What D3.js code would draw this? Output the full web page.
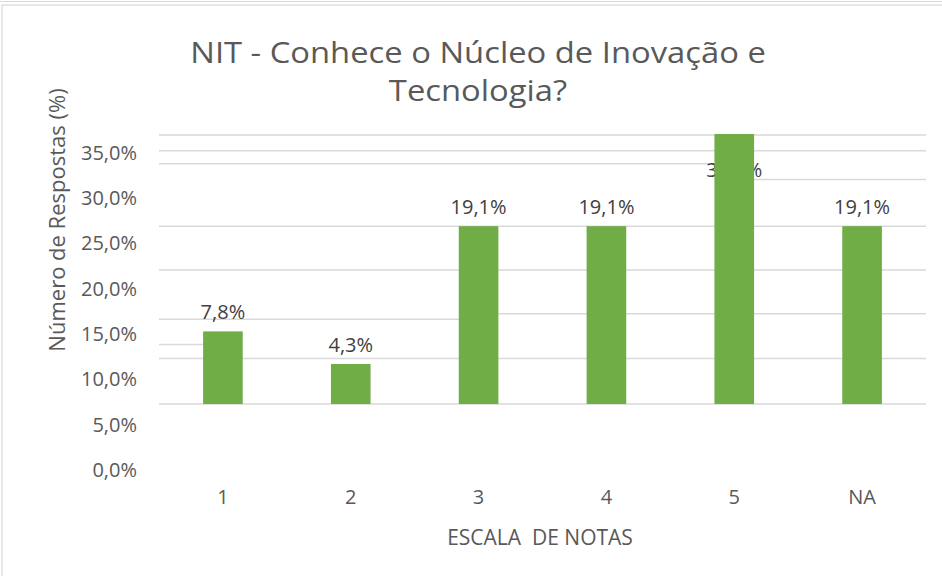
<!DOCTYPE html>
<html>
<head>
<meta charset="utf-8">
<script src="https://cdn.jsdelivr.net/npm/d3@7"></script>
<style>
  body { margin: 0; background: #fff; }
  text { font-family: "Open Sans", sans-serif; }
</style>
</head>
<body>
<div id="chart"></div>
<script>
// categories and values
const categories = ["1", "2", "3", "4", "5", "NA"];
const values = [7.8, 4.3, 19.1, 19.1, 30.6, 19.1];
const yTickValues = [0, 5, 10, 15, 20, 25, 30, 35];

// gridlines as they appear in the picture (value, optional category span)
const gridLines = [
    { v: 0 }, { v: 4.9 }, { v: 6.4, to: "1" },
    { v: 9.1, to: "3" }, { v: 9.7, from: "3" },
    { v: 14.4 }, { v: 19.1 },
    { v: 25.8, to: "5" }, { v: 24.1, from: "5" },
    { v: 27.2 }, { v: 28.9 }
];

const width = 942, height = 576;
const plot = { left: 159, right: 926, top: 134, bottom: 404 };
const visibleMax = 29;   // plot top, bar 5 is cut there
const labelCap = 23.1;   // label of the cut bar sits inside the plot

const svg = d3.select("#chart").append("svg")
    .attr("width", width)
    .attr("height", height);

// frame
svg.append("line").attr("x1", 0).attr("x2", width).attr("y1", 1.5).attr("y2", 1.5)
    .attr("stroke", "#d9d9d9");
svg.append("rect").attr("x", 2).attr("y", 5).attr("width", width + 10).attr("height", height + 10)
    .attr("fill", "none").attr("stroke", "#d9d9d9").attr("stroke-width", 1.2);

const x = d3.scaleBand()
    .domain(categories)
    .range([plot.left, plot.right])
    .paddingInner(0.69)
    .paddingOuter(0.345);

const y = d3.scaleLinear()
    .domain([0, visibleMax])
    .range([plot.bottom, plot.top]);

// y labels in the picture sit on their own spacing
const yLabel = d3.scaleLinear()
    .domain([0, 35])
    .range([470, 153]);

const fmt = d => d.toFixed(1).replace(".", ",") + "%";

// gridlines
svg.append("g").selectAll("line")
    .data(gridLines)
    .enter().append("line")
    .attr("x1", d => d.from ? x(d.from) + x.bandwidth() : plot.left)
    .attr("x2", d => d.to ? x(d.to) + x.bandwidth() / 2 : plot.right)
    .attr("y1", d => y(d.v))
    .attr("y2", d => y(d.v))
    .attr("stroke", "#d9d9d9")
    .attr("stroke-width", 1.5);

// data labels (drawn before bars, the tall bar hides part of its label)
svg.append("g").selectAll("text")
    .data(values)
    .enter().append("text")
    .attr("x", (d, i) => x(categories[i]) + x.bandwidth() / 2)
    .attr("y", d => y(Math.min(d, labelCap)) - 12)
    .attr("text-anchor", "middle")
    .attr("font-size", 20)
    .attr("fill", "#404040")
    .text(d => fmt(d));

svg.append("clipPath").attr("id", "plotClip")
    .append("rect")
    .attr("x", plot.left).attr("y", plot.top)
    .attr("width", plot.right - plot.left)
    .attr("height", plot.bottom - plot.top);

svg.append("g").attr("clip-path", "url(#plotClip)")
    .selectAll("rect")
    .data(values)
    .enter().append("rect")
    .attr("x", (d, i) => x(categories[i]))
    .attr("width", x.bandwidth())
    .attr("y", d => y(d))
    .attr("height", d => y(0) - y(d))
    .attr("fill", "#70ad47");

// y axis labels
const yAxis = svg.append("g")
    .attr("transform", "translate(144,0)")
    .call(d3.axisLeft(yLabel).tickValues(yTickValues).tickFormat(fmt).tickSize(0).tickPadding(7));
yAxis.select(".domain").remove();
yAxis.selectAll("text")
    .attr("font-size", 20)
    .attr("font-family", "Open Sans")
    .attr("fill", "#595959");

// x axis labels
const xAxis = svg.append("g")
    .attr("transform", "translate(0,490)")
    .call(d3.axisBottom(x).tickSize(0).tickPadding(0));
xAxis.select(".domain").remove();
xAxis.selectAll("text")
    .attr("font-size", 20)
    .attr("font-family", "Open Sans")
    .attr("fill", "#595959");

// titles (the picture's title is a bit stretched sideways)
svg.append("text")
    .attr("transform", "translate(478,63) scale(1.13,1)")
    .attr("text-anchor", "middle")
    .attr("font-size", 29)
    .attr("fill", "#595959")
    .text("NIT - Conhece o Núcleo de Inovação e");
svg.append("text")
    .attr("transform", "translate(478,101) scale(1.13,1)")
    .attr("text-anchor", "middle")
    .attr("font-size", 29)
    .attr("fill", "#595959")
    .text("Tecnologia?");

svg.append("text")
    .attr("transform", "translate(65,220) rotate(-90)")
    .attr("text-anchor", "middle")
    .attr("font-size", 22)
    .attr("fill", "#595959")
    .text("Número de Respostas (%)");

svg.append("text")
    .attr("x", 540)
    .attr("y", 545)
    .attr("text-anchor", "middle")
    .attr("font-size", 21)
    .attr("fill", "#595959")
    .style("white-space", "pre")
    .text("ESCALA  DE NOTAS");
</script>
</body>
</html>
